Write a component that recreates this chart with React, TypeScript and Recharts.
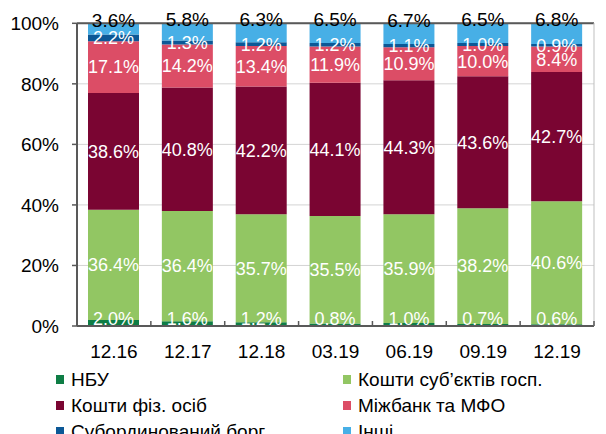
import { Bar, BarChart, CartesianGrid, LabelList, ReferenceLine, XAxis, YAxis } from "recharts";

const FONT = '"Liberation Sans", Arial, sans-serif';

const periods = ["12.16", "12.17", "12.18", "03.19", "06.19", "09.19", "12.19"];

const nbu = [2.0, 1.6, 1.2, 0.8, 1.0, 0.7, 0.6];
const corporate = [36.4, 36.4, 35.7, 35.5, 35.9, 38.2, 40.6];
const households = [38.6, 40.8, 42.2, 44.1, 44.3, 43.6, 42.7];
const interbank = [17.1, 14.2, 13.4, 11.9, 10.9, 10.0, 8.4];
const subordinated = [2.2, 1.3, 1.2, 1.2, 1.1, 1.0, 0.9];
const other = [3.6, 5.8, 6.3, 6.5, 6.7, 6.5, 6.8];

const yTicks = [0, 20, 40, 60, 80, 100];

const SERIES = [
  { key: "nbu", name: "НБУ", color: "#0E7D45" },
  { key: "corporate", name: "Кошти суб’єктів госп.", color: "#92C663" },
  { key: "households", name: "Кошти фіз. осіб", color: "#7A0532" },
  { key: "interbank", name: "Міжбанк та МФО", color: "#DC4D66" },
  { key: "subordinated", name: "Субординований борг", color: "#0C5896" },
  { key: "other", name: "Інші", color: "#47AFE6" },
];

const data = periods.map((cat, i) => ({
  cat,
  nbu: nbu[i],
  corporate: corporate[i],
  households: households[i],
  interbank: interbank[i],
  subordinated: subordinated[i],
  other: other[i],
}));

const pct = (v: unknown) => `${Number(v).toFixed(1)}%`;

function CategoryTick(props: any) {
  const { x, y, payload } = props;
  const half = payload?.offset ?? 517 / 7 / 2;
  const axisY = y - 19;
  return (
    <g>
      <line x1={x + half} x2={x + half} y1={axisY - 5} y2={axisY} stroke="#595959" strokeWidth={1.5} />
      <text x={x} y={y} dy="0.71em" textAnchor="middle" fill="#000" fontSize={19}>
        {payload.value}
      </text>
    </g>
  );
}

function ChartLegend() {
  return (
    <>
      {SERIES.map((s, i) => {
        const col = i % 2;
        const row = Math.floor(i / 2);
        return (
          <div
            key={s.key}
            style={{
              position: "absolute",
              left: col === 0 ? 56 : 343,
              top: 367 + row * 26,
              height: 26,
              lineHeight: "26px",
              fontSize: 19,
              color: "#000",
              whiteSpace: "nowrap",
              display: "flex",
              alignItems: "center",
            }}
          >
            <span
              style={{ display: "inline-block", width: 8, height: 9, background: s.color, marginRight: 7, marginTop: -2 }}
            />
            {s.name}
          </div>
        );
      })}
    </>
  );
}

function labelFor(key: string) {
  if (key === "other") {
    return <LabelList dataKey={key} position="top" offset={-3} formatter={pct} fill="#000" fontSize={19} />;
  }
  if (key === "nbu") {
    return <LabelList dataKey={key} position="insideBottom" offset={1} formatter={pct} fill="#fff" fontSize={18} />;
  }
  return <LabelList dataKey={key} position="center" formatter={pct} fill="#fff" fontSize={18} />;
}

export default function App() {
  return (
    <div style={{ position: "absolute", left: 0, top: 0, width: 606, height: 434, fontFamily: FONT, background: "#fff" }}>
      <BarChart width={606} height={434} data={data} margin={{ top: 23, right: 0, left: 0, bottom: 78 }}>
        <CartesianGrid vertical={false} stroke="#D4D4D4" />
        <XAxis
          dataKey="cat"
          height={30}
          tickLine={false}
          tickSize={6}
          tickMargin={13}
          axisLine={{ stroke: "#595959", strokeWidth: 2 }}
          tick={<CategoryTick />}
          interval={0}
        />
        <YAxis
          width={77}
          domain={[0, 100]}
          ticks={yTicks}
          tickFormatter={(v) => `${v}%`}
          tickSize={5}
          tickMargin={13}
          axisLine={{ stroke: "#595959", strokeWidth: 2 }}
          tickLine={{ stroke: "#595959", strokeWidth: 1.5 }}
          tick={{ fill: "#000", fontSize: 19 }}
        />
        <YAxis
          yAxisId="right"
          orientation="right"
          width={12}
          tick={false}
          tickLine={false}
          axisLine={{ stroke: "#BFBFBF", strokeWidth: 1 }}
        />
        {SERIES.map((s) => (
          <Bar key={s.key} dataKey={s.key} name={s.name} stackId="a" fill={s.color} barSize={51} isAnimationActive={false}>
            {labelFor(s.key)}
          </Bar>
        ))}
        <ReferenceLine y={100} stroke="#595959" strokeWidth={2} />
      </BarChart>
      <ChartLegend />
    </div>
  );
}
